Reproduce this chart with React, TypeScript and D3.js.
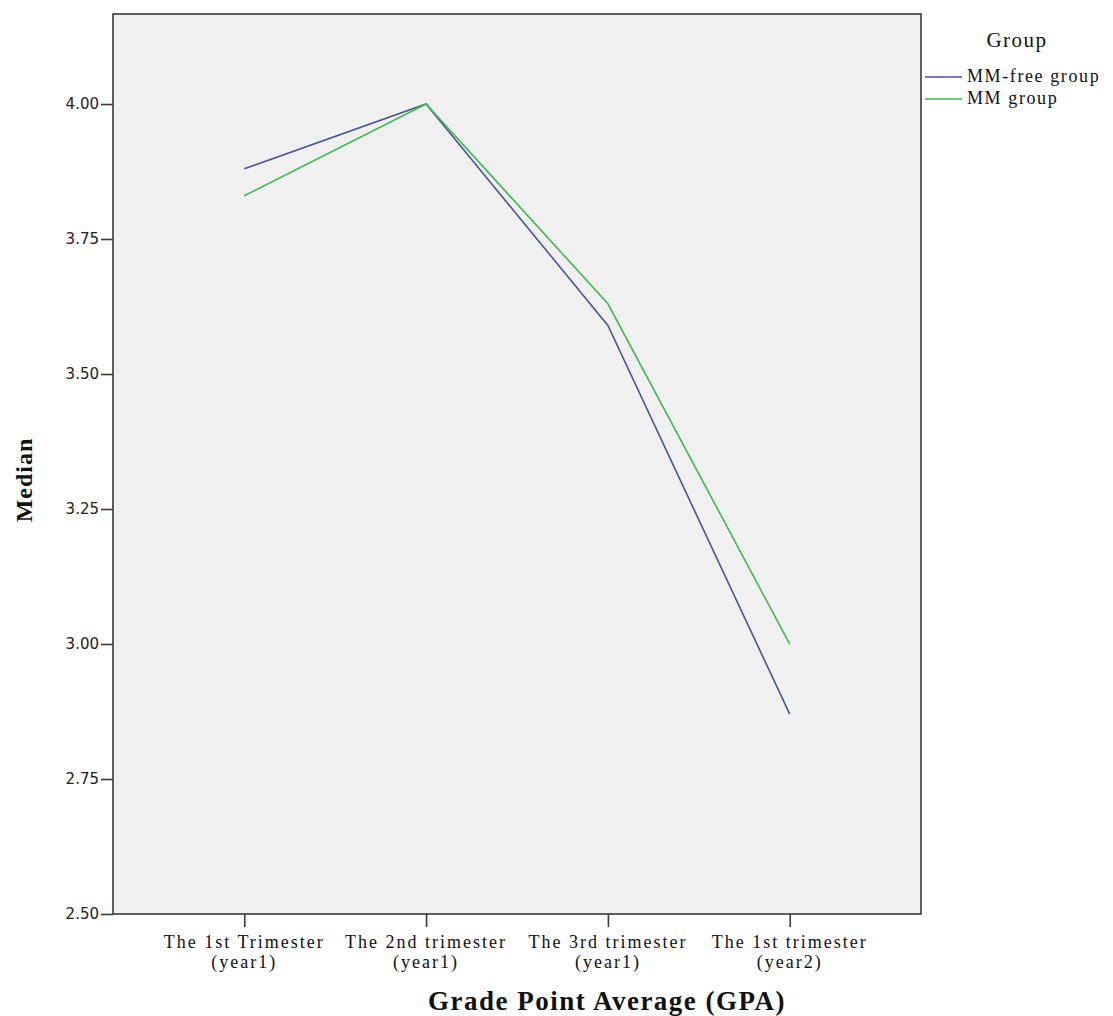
import React, { useEffect, useRef } from 'react';
import * as d3 from 'd3';

// categorias do eixo x (duas linhas cada)
const periods = ['T1Y1', 'T2Y1', 'T3Y1', 'T1Y2'];
const periodLines = [
  ['The 1st Trimester', '(year1)'],
  ['The 2nd trimester', '(year1)'],
  ['The 3rd trimester', '(year1)'],
  ['The 1st trimester', '(year2)'],
];

// medianas por grupo
const mmFree = [3.88, 4.0, 3.59, 2.87];
const mmGroup = [3.83, 4.0, 3.63, 3.0];

const seriesNames = ['MM-free group', 'MM group'];
const yTicks = [2.5, 2.75, 3.0, 3.25, 3.5, 3.75, 4.0];

const W = 1113;
const H = 1016;

const App = () => {
  const ref = useRef<SVGSVGElement>(null);

  useEffect(() => {
    const margin = { top: 14, right: 192, bottom: 102, left: 113 };
    const width = W - margin.left - margin.right;
    const height = H - margin.top - margin.bottom;

    const root = d3.select(ref.current);
    root.selectAll('*').remove();

    const svg = root.append('g').attr('transform', `translate(${margin.left},${margin.top})`);

    const x = d3.scalePoint<string>().domain(periods).range([0, width]).padding(0.722);
    const y = d3.scaleLinear().domain([2.5, 4.1667]).range([height, 0]);

    // fundo
    svg.append('rect')
      .attr('width', width).attr('height', height)
      .attr('fill', '#f0f0f0');

    const colors = ['#4a5499', '#3dbb4c'];
    const series = [mmFree, mmGroup];

    const line = d3.line<number>()
      .x((_, i) => x(periods[i]) as number)
      .y(d => y(d));

    series.forEach((s, i) => {
      svg.append('path')
        .datum(s)
        .attr('fill', 'none')
        .attr('stroke', colors[i])
        .attr('stroke-width', 1.6)
        .attr('d', line);
    });

    // moldura
    svg.append('rect')
      .attr('width', width).attr('height', height)
      .attr('fill', 'none')
      .attr('stroke', '#3a3a3a')
      .attr('stroke-width', 1.6);

    // eixo y
    const yAxis = svg.append('g')
      .call(d3.axisLeft(y).tickValues(yTicks).tickFormat(d3.format('.2f')).tickSize(12).tickPadding(2));
    yAxis.select('.domain').remove();
    yAxis.selectAll('line').attr('stroke', '#3a3a3a').attr('stroke-width', 1.6);
    yAxis.selectAll('text')
      .attr('font-family', 'DejaVu Sans, sans-serif')
      .attr('font-size', 15)
      .attr('fill', '#222');

    // eixo x
    const xAxis = svg.append('g')
      .attr('transform', `translate(0,${height})`)
      .call(d3.axisBottom(x).tickSize(13).tickFormat(() => ''));
    xAxis.select('.domain').remove();
    xAxis.selectAll('line').attr('stroke', '#3a3a3a').attr('stroke-width', 1.6);

    periods.forEach((p, i) => {
      const t = svg.append('text')
        .attr('x', x(p) as number)
        .attr('y', height + 34)
        .attr('text-anchor', 'middle')
        .attr('font-family', 'Liberation Serif, serif')
        .attr('font-size', 18)
        .attr('letter-spacing', 2)
        .attr('fill', '#111');
      periodLines[i].forEach((ln, j) => {
        t.append('tspan')
          .attr('x', x(p) as number)
          .attr('dy', j === 0 ? 0 : 20)
          .text(ln);
      });
    });

    // títulos dos eixos
    root.append('text')
      .attr('x', 607).attr('y', 1010)
      .attr('text-anchor', 'middle')
      .attr('font-family', 'Liberation Serif, serif')
      .attr('font-weight', 'bold')
      .attr('font-size', 27)
      .attr('letter-spacing', 1.5)
      .attr('fill', '#111')
      .text('Grade Point Average (GPA)');

    root.append('text')
      .attr('transform', `translate(32,480) rotate(-90)`)
      .attr('text-anchor', 'middle')
      .attr('font-family', 'Liberation Serif, serif')
      .attr('font-weight', 'bold')
      .attr('font-size', 24)
      .attr('letter-spacing', 1)
      .attr('fill', '#111')
      .text('Median');

    // legenda
    const leg = root.append('g');
    leg.append('text')
      .attr('x', 1017).attr('y', 47)
      .attr('text-anchor', 'middle')
      .attr('font-family', 'Liberation Serif, serif')
      .attr('font-size', 21)
      .attr('letter-spacing', 1.5)
      .attr('fill', '#111')
      .text('Group');

    seriesNames.forEach((name, i) => {
      const ly = 77 + i * 22;
      leg.append('line')
        .attr('x1', 925).attr('x2', 962)
        .attr('y1', ly).attr('y2', ly)
        .attr('stroke', colors[i])
        .attr('stroke-width', 1.6);
      leg.append('text')
        .attr('x', 967).attr('y', ly + 5)
        .attr('font-family', 'Liberation Serif, serif')
        .attr('font-size', 18)
        .attr('letter-spacing', 1.6)
        .attr('fill', '#111')
        .text(name);
    });
  }, []);

  return (
    <svg
      ref={ref}
      width={W}
      height={H}
      style={{ position: 'absolute', left: 0, top: 0, background: '#fff' }}
    />
  );
};

export default App;
